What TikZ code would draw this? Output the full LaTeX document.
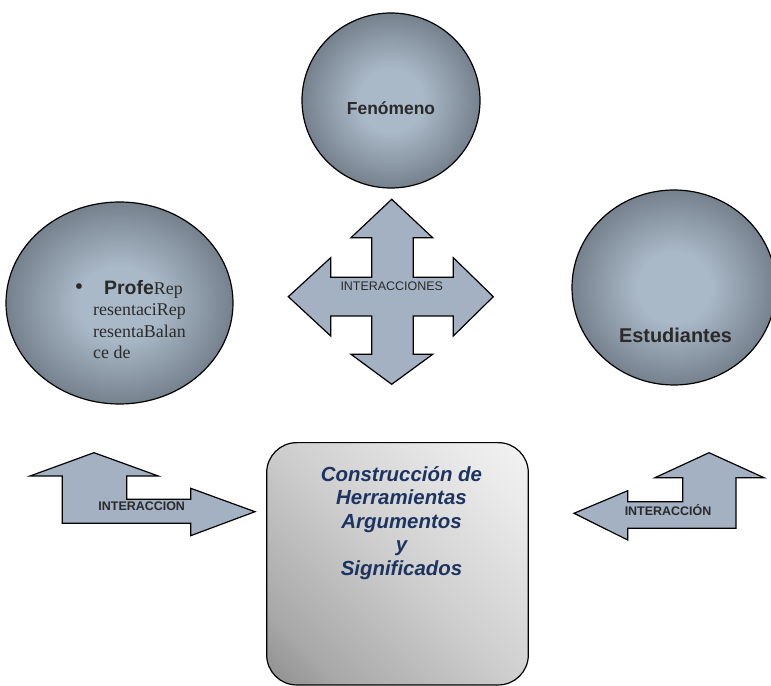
\documentclass[tikz,border=0pt]{standalone}
\usepackage{fontspec}
\setmainfont{Liberation Serif}
\setsansfont{Liberation Sans}
\usetikzlibrary{shapes.geometric}
\definecolor{orbin}{RGB}{170,185,200}
\definecolor{orbout}{RGB}{52,59,68}
\definecolor{arrowfill}{RGB}{163,177,194}
\definecolor{boxdark}{RGB}{104,104,104}
\definecolor{boxlow}{RGB}{168,168,168}
\definecolor{boxmid}{RGB}{206,206,206}
\definecolor{boxhigh}{RGB}{234,234,234}
\definecolor{boxtext}{RGB}{29,52,96}
\definecolor{labeltext}{RGB}{42,42,42}
\pgfdeclareradialshading{orb}{\pgfpointorigin}{color(0bp)=(orbin); color(9bp)=(orbin); color(45bp)=(orbout); color(50bp)=(orbout)}
\pgfdeclarehorizontalshading{boxfade}{100bp}{color(0bp)=(boxdark); color(25bp)=(boxlow); color(50bp)=(boxmid); color(75bp)=(boxhigh); color(100bp)=(white)}
\begin{document}
\begin{tikzpicture}[>=latex,line join=miter,
  orbnode/.style={ellipse,draw=black,line width=1.2bp,shading=orb,inner sep=0pt},
  bigarrow/.style={draw=black,line width=1.2bp,fill=arrowfill},
  orblabel/.style={font=\sffamily\bfseries\fontsize{17.5}{20}\selectfont,text=labeltext,inner sep=0pt},
  arrowlabel/.style={font=\sffamily\fontsize{12.5}{15}\selectfont,text=labeltext,inner sep=0pt},
  ]
\useasboundingbox (0bp,0bp) rectangle (771bp,686bp);
%%
\node (fenomeno) at (391.0bp,585.5bp) [orbnode,minimum width=178bp,minimum height=175bp] {};
  \node (profe) at (119.5bp,383.0bp) [orbnode,minimum width=227bp,minimum height=202bp] {};
  \node (estudiantes) at (674.0bp,398.5bp) [orbnode,minimum width=204bp,minimum height=195bp] {};
  \node (fenomeno_txt) at (391.0bp,578.0bp) [orblabel] {Fenómeno};
  \node (estudiantes_txt) at (675.5bp,350.3bp) [orblabel,font=\sffamily\bfseries\fontsize{20}{24}\selectfont] {Estudiantes};
  \node (profe_txt) at (93.0bp,406.0bp) [anchor=north west,inner sep=0pt,align=left,text=labeltext,font=\rmfamily\fontsize{18}{21.5}\selectfont] {\makebox[0pt][r]{{\fontsize{24}{24}\selectfont\textbullet}\hspace{10bp}}\hspace*{11bp}{\sffamily\bfseries\fontsize{19.5}{21.5}\selectfont Profe}Rep\\resentaciRep\\resentaBalan\\ce de};
%
\draw [bigarrow] (391.7bp,486.7bp) -- (432.7bp,448.3bp) -- (413.3bp,448.3bp) -- (413.3bp,408.7bp)
  -- (453.3bp,408.7bp) -- (453.3bp,428.3bp) -- (493.3bp,389.3bp) -- (453.3bp,350.0bp)
  -- (453.3bp,370.0bp) -- (413.3bp,370.0bp) -- (413.3bp,331.7bp) -- (432.7bp,331.7bp)
  -- (391.7bp,301.7bp) -- (351.0bp,331.7bp) -- (371.7bp,331.7bp) -- (371.7bp,370.0bp)
  -- (330.7bp,370.0bp) -- (330.7bp,350.0bp) -- (288.3bp,389.3bp) -- (330.7bp,428.3bp)
  -- (330.7bp,408.7bp) -- (371.7bp,408.7bp) -- (371.7bp,448.3bp) -- (351.0bp,448.3bp) -- cycle;
  \node (interacciones) at (391.7bp,399.3bp) [arrowlabel] {INTERACCIONES};
%
\draw [bigarrow] (62.3bp,162.7bp) -- (62.3bp,210.0bp) -- (30.0bp,210.0bp) -- (94.0bp,233.3bp)
  -- (158.3bp,210.0bp) -- (126.7bp,210.0bp) -- (126.7bp,186.7bp) -- (190.7bp,186.7bp)
  -- (190.7bp,197.7bp) -- (255.0bp,174.3bp) -- (190.7bp,150.3bp) -- (190.7bp,162.7bp) -- cycle;
  \node (interaccion_izq) at (141.7bp,179.3bp) [arrowlabel,font=\sffamily\bfseries\fontsize{12.5}{15}\selectfont] {INTERACCION};
%
\draw [bigarrow] (736.0bp,157.7bp) -- (736.0bp,208.3bp) -- (764.0bp,208.3bp) -- (709.0bp,233.3bp)
  -- (655.0bp,208.3bp) -- (682.7bp,208.3bp) -- (682.7bp,184.3bp) -- (627.7bp,184.3bp)
  -- (627.7bp,195.3bp) -- (574.0bp,172.7bp) -- (627.7bp,146.0bp) -- (627.7bp,157.7bp) -- cycle;
  \node (interaccion_der) at (668.0bp,176.0bp) [arrowlabel,font=\sffamily\bfseries\fontsize{12.5}{15}\selectfont] {INTERACCIÓN};
%
\node (construccion) at (397.5bp,122.2bp) [draw=black,line width=1.2bp,rounded corners=30bp,
  minimum width=261.6bp,minimum height=242.3bp,shade,shading=boxfade,shading angle=45] {};
  \node (construccion_txt) at (401.5bp,163.0bp) [align=center,inner sep=0pt,text=boxtext,
  font=\sffamily\bfseries\itshape\fontsize{20.5}{23.7}\selectfont] {Construcción de\\Herramientas\\Argumentos\\y\\Significados};
%
\end{tikzpicture}
\end{document}
